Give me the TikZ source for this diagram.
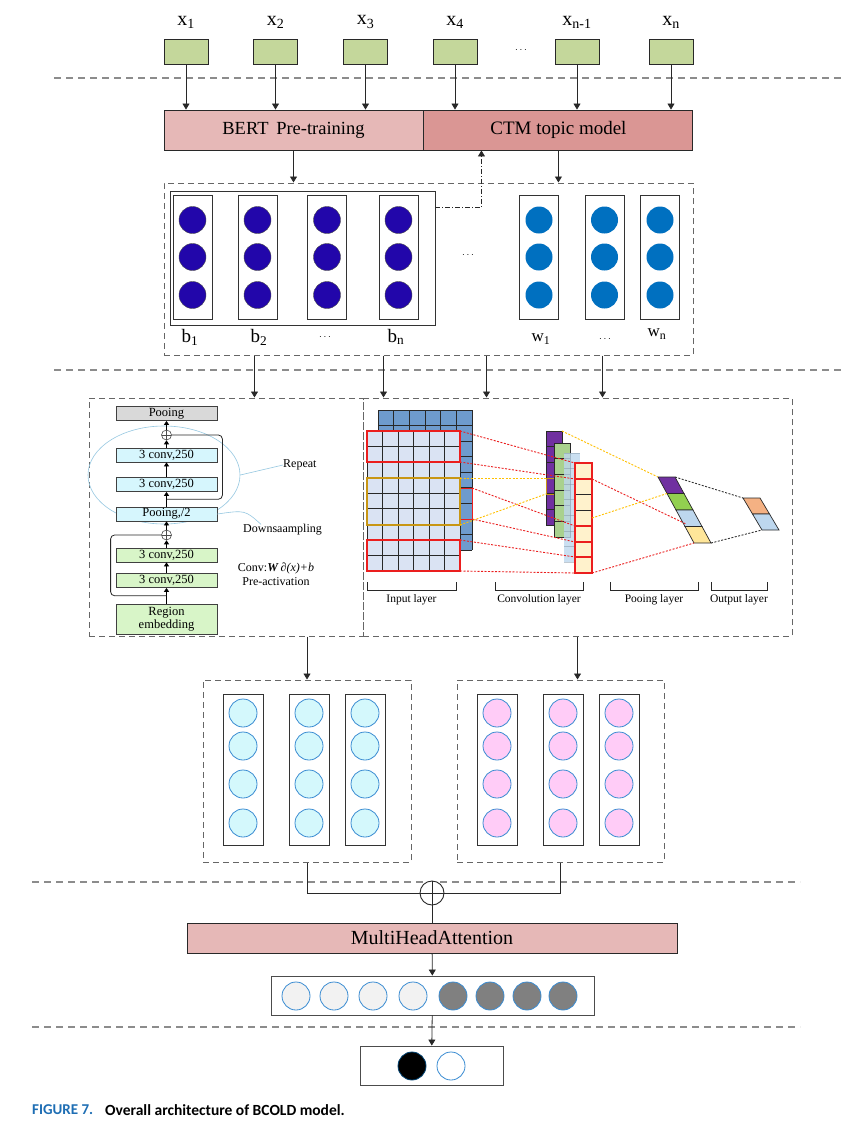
\documentclass[tikz,border=0pt]{standalone}
\usepackage{fontspec}
\setmainfont{Liberation Serif}
\newfontfamily\capfont{Carlito}
\usepackage{tikz}
\usetikzlibrary{arrows.meta, positioning, calc, shapes.geometric}
\definecolor{mydark}{RGB}{40,40,40}
\definecolor{mygreen}{RGB}{196,215,155}
\definecolor{mybert}{RGB}{230,184,183}
\definecolor{myctm}{RGB}{218,150,148}
\definecolor{myindigo}{RGB}{34,6,170}
\definecolor{myblue}{RGB}{0,112,192}
\definecolor{myedge}{RGB}{58,140,210}
\definecolor{mycyan}{RGB}{212,248,252}
\definecolor{mypink}{RGB}{255,204,247}
\definecolor{mygray}{RGB}{128,128,128}
\definecolor{mylight}{RGB}{242,242,242}
\definecolor{hdrgray}{RGB}{217,217,217}
\definecolor{hdrcyan}{RGB}{214,246,253}
\definecolor{hdrgreen}{RGB}{216,245,200}
\definecolor{repline}{RGB}{150,200,225}
\definecolor{gridback}{RGB}{110,155,205}
\definecolor{gridfront}{RGB}{218,227,243}
\definecolor{mypurple}{RGB}{112,48,160}
\definecolor{mysage}{RGB}{169,209,142}
\definecolor{mysky}{RGB}{189,215,238}
\definecolor{mycream}{RGB}{255,242,204}
\definecolor{mylime}{RGB}{146,208,80}
\definecolor{myyellow}{RGB}{255,230,153}
\definecolor{myorange}{RGB}{244,177,131}
\definecolor{mygold}{RGB}{200,150,20}
\definecolor{mydot}{RGB}{255,192,0}
\definecolor{myred}{RGB}{235,30,30}
\definecolor{capblue}{RGB}{30,110,180}
\tikzset{
  inbox/.style={rectangle, draw=mydark, fill=mygreen, minimum width=44,
    minimum height=25, line width=0.9pt, inner sep=0},
  barbox/.style={rectangle, draw=mydark, minimum height=40, line width=0.9pt,
    inner sep=0, font=\fontsize{19}{21}\selectfont},
  grpbox/.style={rectangle, draw=black!60, dash pattern=on 6pt off 4pt,
    line width=1pt, inner sep=0},
  colbox/.style={rectangle, draw=black!80, fill=white, line width=0.9pt, inner sep=0},
  bdot/.style={circle, fill=myindigo, draw=black!70, line width=0.4pt,
    minimum size=27, inner sep=0},
  wdot/.style={circle, fill=myblue, minimum size=27, inner sep=0},
  odot/.style={circle, draw=myedge, line width=0.8pt, minimum size=28, inner sep=0},
  layerbox/.style={rectangle, draw=black!75, line width=0.8pt, minimum width=101,
    minimum height=14, inner sep=0, font=\fontsize{12.5}{13}\selectfont},
  addnode/.style={circle, draw=black!70, fill=white, line width=0.6pt,
    minimum size=10, inner sep=0,
    path picture={\draw[line width=0.6pt]
      (path picture bounding box.north) -- (path picture bounding box.south)
      (path picture bounding box.west) -- (path picture bounding box.east);}},
  toklabel/.style={font=\fontsize{20}{22}\selectfont, inner sep=0},
  veclabel/.style={font=\fontsize{19}{21}\selectfont, inner sep=0},
  note/.style={font=\fontsize{12}{14}\selectfont, inner sep=0},
  layerlbl/.style={font=\fontsize{11.5}{13}\selectfont, inner sep=0},
  arrow/.style={-{Triangle[length=6pt,width=7pt]}, line width=0.8pt, color=mydark},
  smallarrow/.style={-{Triangle[length=4pt,width=5pt]}, line width=0.8pt, color=black},
  line/.style={line width=0.8pt, color=mydark},
  sepline/.style={draw=black!45, dash pattern=on 7pt off 5pt, line width=1.2pt},
  reddot/.style={myred, dash pattern=on 2pt off 1.5pt, line width=0.9pt},
  golddot/.style={mydot, dash pattern=on 2pt off 1.5pt, line width=0.9pt},
  blackdot/.style={black!80, dash pattern=on 2pt off 1.5pt, line width=0.9pt}
}

\begin{document}
\begin{tikzpicture}[x=1pt, y=-1pt]
  \useasboundingbox (0,0) rectangle (864,1127);
  \fill[white] (0,0) rectangle (864,1127);

  % Separators
  \draw[sepline] (54,78) -- (841,78);
  \draw[sepline] (54,370) -- (841,370);
  \draw[sepline] (32,882) -- (800,882);
  \draw[sepline] (32,1027) -- (800,1027);

  % Input tokens
  \foreach \i/\cx/\lab in {1/186/1, 2/275.5/2, 3/365.5/3, 4/455/4, m/577/{n-1}, n/671/n} {
    \node[inbox] (in\i) at (\cx,51.5) {};
    \node[toklabel] (tok\i) at (\cx,22) {x\textsubscript{\lab}};
  }
  \node[font=\fontsize{10}{12}\selectfont] (indots) at (521,50) {$\cdots$};

  % BERT / CTM
  \node[barbox, fill=mybert, minimum width=259, font=\fontsize{18.5}{21}\selectfont] (bert) at (293.5,130) {BERT\, Pre-training};
  \node[barbox, fill=myctm, minimum width=269, right=0pt of bert] (ctm) {CTM topic model};
  \foreach \i in {1,2,3} \draw[arrow] (in\i) -- (in\i |- bert.north);
  \foreach \i in {4,m,n} \draw[arrow] (in\i) -- (in\i |- ctm.north);

  % Embedding vectors
  \node[grpbox, minimum width=529, minimum height=172] (emb) at (428.5,269) {};
  \node[colbox, minimum width=265, minimum height=134] (bvec) at (302.5,258) {};
  \foreach \i/\cx in {1/192.5, 2/257.5, 3/327, 4/398.5} {
    \node[colbox, minimum width=39, minimum height=124] (bc\i) at (\cx,257) {};
    \foreach \j/\yy in {1/220, 2/257, 3/295}
      \node[bdot] (bc\i-\j) at (\cx,\yy) {};
  }
  \foreach \i/\cx in {1/539, 2/604.5, 3/660} {
    \node[colbox, minimum width=39, minimum height=124] (wc\i) at (\cx,257) {};
    \foreach \j/\yy in {1/220, 2/257, 3/295}
      \node[wdot] (wc\i-\j) at (\cx,\yy) {};
  }
  \node[veclabel] (lb1) at (190,337) {b\textsubscript{1}};
  \node[veclabel] (lb2) at (259,337) {b\textsubscript{2}};
  \node[font=\fontsize{10}{12}\selectfont] (lbdots) at (325,337) {$\cdots$};
  \node[veclabel] (lbn) at (396,337) {b\textsubscript{n}};
  \node[font=\fontsize{10}{12}\selectfont] (middots) at (468,255) {$\cdots$};
  \node[veclabel, font=\fontsize{17}{19}\selectfont] (lw1) at (541,339) {w\textsubscript{1}};
  \node[font=\fontsize{10}{12}\selectfont] (lwdots) at (605,339) {$\cdots$};
  \node[veclabel, font=\fontsize{17}{19}\selectfont] (lwn) at (657,334) {w\textsubscript{n}};

  \draw[arrow] (bert.south) -- (bert.south |- emb.north);
  \draw[arrow] (ctm.south) -- (ctm.south |- emb.north);
  \draw[arrow, dash pattern=on 5pt off 2pt on 1pt off 2pt]
    ([yshift=-17pt]bvec.north east) -| ([xshift=58pt]ctm.south west);

  % DPCNN and CNN
  \node[grpbox, minimum width=274, minimum height=238] (dp) at (226,517) {};
  \node[grpbox, minimum width=429, minimum height=238] (cnn) at (577.5,517) {};
  \foreach \dx in {91,220} \draw[arrow] ([xshift=\dx pt]emb.south west) -- ([xshift=\dx pt]emb.south west |- dp.north);
  \foreach \dx in {323,439} \draw[arrow] ([xshift=\dx pt]emb.south west) -- ([xshift=\dx pt]emb.south west |- cnn.north);

  \node[draw=repline, line width=0.6pt, ellipse, minimum width=152,
    minimum height=98] (rep) at (164,475) {};
  \node[layerbox, fill=hdrgray] (pool) at (166.5,413.5) {Pooing};
  \node[addnode] (add1) at (166.5,435) {};
  \node[layerbox, fill=hdrcyan] (c1) at (166.5,455) {3 conv,250};
  \node[layerbox, fill=hdrcyan] (c2) at (166.5,484.5) {3 conv,250};
  \node[layerbox, fill=hdrcyan] (pool2) at (166.5,514) {Pooing,/2};
  \node[addnode] (add2) at (166.5,535) {};
  \node[layerbox, fill=hdrgreen] (g1) at (166.5,555) {3 conv,250};
  \node[layerbox, fill=hdrgreen] (g2) at (166.5,580.5) {3 conv,250};
  \node[layerbox, fill=hdrgreen, minimum height=30, align=center,
    font=\fontsize{12.5}{13.5}\selectfont] (regemb) at (166.5,619) {Region\\embedding};
  \draw[smallarrow] (regemb) -- (g2);
  \draw[smallarrow] (g2) -- (g1);
  \draw[smallarrow] (g1) -- (add2);
  \draw[smallarrow] (add2) -- (pool2);
  \draw[smallarrow] (pool2) -- (c2);
  \draw[smallarrow] (c2) -- (c1);
  \draw[smallarrow] (c1) -- (add1);
  \draw[smallarrow] (add1) -- (pool);
  \draw[line, rounded corners=4pt] ($(pool2.north)!0.5!(c2.south)$) -| ([xshift=5pt]c1.east |- add1) -- (add1.east);
  \draw[line, rounded corners=4pt] ($(regemb.north)!0.5!(g2.south)$) -| ([xshift=-5pt]g2.west |- add2) -- (add2.west);

  \node[note, anchor=west] (lblrep) at (283,465) {Repeat};
  \draw[repline, line width=0.6pt] (rep.east) -- (lblrep.west);
  \node[note, anchor=west] (lbldown) at (243,530) {Downsaampling};
  \draw[repline, line width=0.6pt] (pool2.east) .. controls (245,510) .. ([xshift=18pt]lbldown.north west);
  \node[note] (lblconv) at (276,568) {Conv:\textbf{\textit{W}}\,\textit{∂(x)+b}};
  \node[note] (lblpre) at (276,582) {Pre-activation};

  % input layer grids
  \fill[gridback] (378,410) rectangle (472,550);
  \foreach \k in {0,...,6} \draw[mydark, line width=0.7pt] (378+15.67*\k,410) -- (378+15.67*\k,550);
  \foreach \k in {0,...,9} \draw[mydark, line width=0.7pt] (378,410+15.56*\k) -- (472,410+15.56*\k);
  \draw[myred, line width=1pt] (460,488) rectangle (472,519);
  \fill[gridfront] (367,431) rectangle (460,571);
  \foreach \k in {0,...,6} \draw[mydark, line width=0.7pt] (367+15.5*\k,431) -- (367+15.5*\k,571);
  \foreach \k in {0,...,9} \draw[mydark, line width=0.7pt] (367,431+15.55*\k) -- (460,431+15.55*\k);
  \draw[myred, line width=1.1pt] (367,431) rectangle (460,462);
  \draw[myred, line width=1.1pt] (367,540) rectangle (460,571);
  \draw[mygold, line width=1.1pt] (367,478) rectangle (460,525);

  % convolution strips
  \fill[mypurple] (546,431) rectangle (562,525);
  \foreach \k in {0,...,6} \draw[mydark, line width=0.6pt] (546,431+15.67*\k) -- (562,431+15.67*\k);
  \draw[mydark, line width=0.6pt] (546,431) rectangle (562,525);
  \draw[mygold, line width=1pt] (546,478) rectangle (562,494);
  \fill[mysage] (554,443) rectangle (570,537);
  \foreach \k in {0,...,6} \draw[mydark, line width=0.6pt] (554,443+15.67*\k) -- (570,443+15.67*\k);
  \draw[mydark, line width=0.6pt] (554,443) rectangle (570,537);
  \fill[mysky, opacity=0.8] (564,453) rectangle (580,562);
  \foreach \k in {0,...,7} \draw[mysky!70!black, opacity=0.5, line width=0.5pt] (564,453+15.57*\k) -- (580,453+15.57*\k);
  \fill[mycream] (575,463) rectangle (592,573);
  \foreach \k in {0,...,7} \draw[mydark, line width=0.6pt] (575,463+15.71*\k) -- (592,463+15.71*\k);
  \draw[myred, line width=1.1pt] (575,463) rectangle (592,573);
  \draw[myred, line width=1.1pt] (575,463) rectangle (592,479);
  \draw[myred, line width=1.1pt] (575,526) rectangle (592,542);
  \draw[myred, line width=1.1pt] (575,557) rectangle (592,573);

  % pooling and output cells
  \foreach \k/\c in {0/mypurple, 1/mylime, 2/mysky, 3/myyellow}
    \filldraw[fill=\c, draw=mydark, line width=0.7pt] (658+9*\k,477+16.5*\k) -- ++(17,0) -- ++(9,16.5) -- ++(-17,0) -- cycle;
  \foreach \k/\c in {0/myorange, 1/mysky}
    \filldraw[fill=\c, draw=mydark, line width=0.7pt] (743+9.5*\k,498+16*\k) -- ++(17,0) -- ++(9.5,16) -- ++(-17,0) -- cycle;

  % links
  \draw[reddot] (460,431) -- (575,463);
  \draw[reddot] (460,462) -- (575,479);
  \draw[reddot] (472,488) -- (575,526);
  \draw[reddot] (472,519) -- (575,542);
  \draw[reddot] (460,540) -- (575,557);
  \draw[reddot] (460,571) -- (575,573);
  \draw[reddot] (592,479) -- (686,524);
  \draw[reddot] (592,573) -- (694,543);
  \draw[golddot] (460,478) -- (546,478);
  \draw[golddot] (460,525) -- (546,494);
  \draw[golddot] (562,431) -- (658,477);
  \draw[golddot] (592,518) -- (667,493.5);
  \draw[blackdot] (675,477) -- (743,498);
  \draw[blackdot] (711,543) -- (762,530);

  \foreach \a/\b/\nm/\txt in {367/456/lin/Input layer, 495/583/lconv/Convolution layer,
      610/698/lpool/Pooing layer, 711/767/lout/Output layer} {
    \draw[mydark, line width=0.7pt] (\a,582) -- (\a,590) -- (\b,590) -- (\b,582);
    \node[layerlbl] (\nm) at ({(\a+\b)/2},600) {\txt};
  }

  % Feature vectors
  \node[grpbox, minimum width=208, minimum height=182] (cy) at (307,771) {};
  \node[grpbox, minimum width=207, minimum height=182] (pk) at (560.5,771) {};
  \foreach \i/\cx in {1/243, 2/309, 3/365} {
    \node[colbox, minimum width=40, minimum height=151] (cc\i) at (\cx,769.5) {};
    \foreach \j/\yy in {1/713, 2/746, 3/784, 4/823}
      \node[odot, fill=mycyan] (cc\i-\j) at (\cx,\yy) {};
  }
  \foreach \i/\cx in {1/497, 2/563, 3/619} {
    \node[colbox, minimum width=40, minimum height=151] (pc\i) at (\cx,769.5) {};
    \foreach \j/\yy in {1/713, 2/746, 3/784, 4/823}
      \node[odot, fill=mypink] (pc\i-\j) at (\cx,\yy) {};
  }
  \draw[arrow] (dp.south -| cy.north) -- (cy.north);
  \draw[arrow] (cnn.south) -- (cnn.south |- pk.north);

  % Fusion and attention
  \node[circle, draw=mydark, fill=white, line width=0.9pt, minimum size=24, inner sep=0,
    path picture={\draw[line width=0.8pt]
      (path picture bounding box.north) -- (path picture bounding box.south)
      (path picture bounding box.west) -- (path picture bounding box.east);}] (sum) at (432,893) {};
  \draw[line] (cy.south) |- (sum.west);
  \draw[line] (pk.south) |- (sum.east);
  \node[barbox, fill=mybert, minimum width=490, minimum height=30,
    font=\fontsize{20}{22}\selectfont] (mha) at (432,938) {MultiHeadAttention};
  \draw[line] (sum) -- (mha);
  \node[colbox, draw=black!70, minimum width=323, minimum height=39] (vec) at (432.5,995.5) {};
  \foreach \j/\cx in {1/296, 2/334, 3/373, 4/413}
    \node[odot, fill=mylight] (v\j) at (\cx,996) {};
  \foreach \j/\cx in {5/453, 6/490, 7/527, 8/563}
    \node[odot, fill=mygray] (v\j) at (\cx,996) {};
  \draw[arrow] (mha) -- (vec);
  \node[colbox, draw=black!70, minimum width=143, minimum height=39] (out) at (431.5,1065.5) {};
  \node[odot, fill=black, draw=myblue!60!black] (o1) at (412,1066) {};
  \node[odot, fill=white] (o2) at (451,1066) {};
  \draw[arrow] (vec) -- (out);

  % Caption
  \node[anchor=west, inner sep=0, font=\capfont\bfseries\fontsize{15}{17}\selectfont,
    color=capblue] (capnum) at (32,1110) {FIGURE 7.};
  \node[anchor=west, inner sep=0, font=\capfont\bfseries\fontsize{15.5}{17}\selectfont]
    (captxt) at (105,1110) {Overall architecture of BCOLD model.};
\end{tikzpicture}
\end{document}
